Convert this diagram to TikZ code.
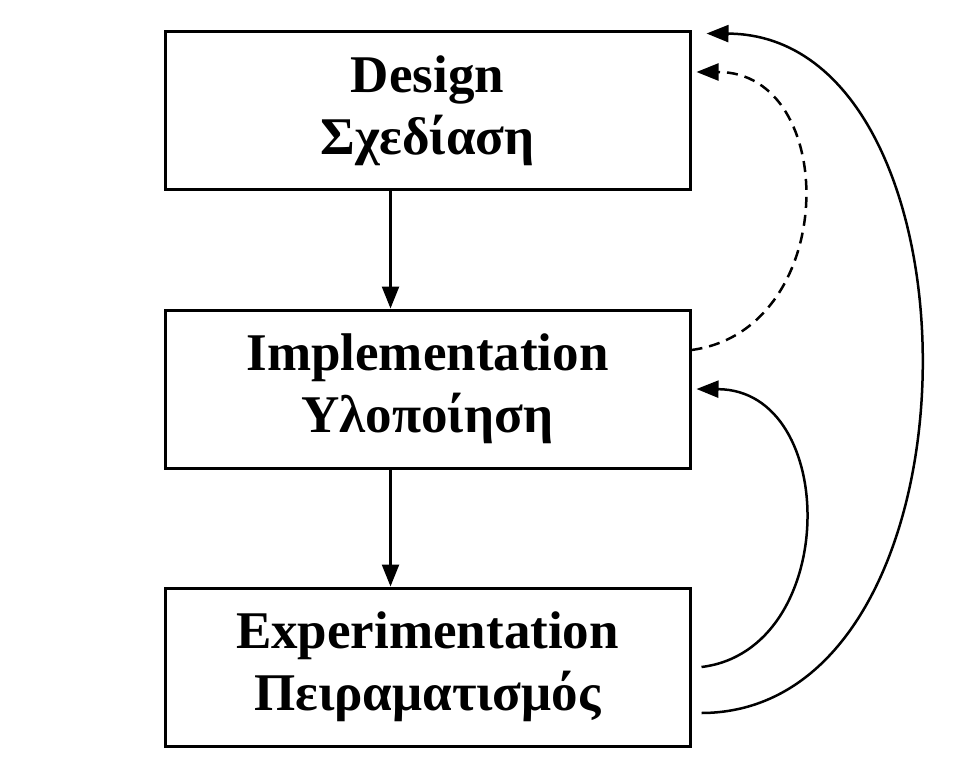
\documentclass[tikz,border=0pt]{standalone}
\usepackage{fontspec}
\setmainfont{Liberation Serif}
\usetikzlibrary{arrows.meta,positioning,calc}
\tikzset{
  stagebox/.style={draw,line width=3pt,minimum width=525pt,minimum height=158pt,inner sep=0pt},
  flowarrow/.style={line width=2.5pt,-{Triangle[length=22pt,width=17pt]}}
}

\begin{document}
\begin{tikzpicture}[x=1pt,y=-1pt,font=\fontsize{53}{62}\selectfont\bfseries,every node/.style={align=center}]
\useasboundingbox (0,0) rectangle (957,759);
\node[stagebox] (design) at (427.5,111) {Design\\Σχεδίαση};
\node[stagebox,below=117pt of design] (impl) {Implementation\\Υλοποίηση};
\node[stagebox,below=117pt of impl] (exper) {Experimentation\\Πειραματισμός};
\draw[flowarrow] ($(design.south)+(-37,0)$)--($(impl.north)+(-37,0)$);
\draw[flowarrow] ($(impl.south)+(-37,0)$)--($(exper.north)+(-37,0)$);
% feedback loops
\coordinate (implout) at ($(impl.east)+(0,-39)$);
\coordinate (designin) at ($(design.east)+(5,-39)$);
\coordinate (experout) at ($(exper.east)+(10,0)$);
\coordinate (implin) at ($(impl.east)+(5,0)$);
\coordinate (experlow) at ($(exper.east)+(10,46)$);
\coordinate (designtop) at ($(design.north east)+(15,3)$);
\draw[flowarrow,dashed,dash pattern=on 11pt off 7pt] (implout) .. controls (840,330) and (840,72) .. (designin);
\draw[flowarrow] (experout) .. controls (840,650) and (840,390) .. (implin);
\draw[flowarrow] (experlow) .. controls (992,712) and (992,35) .. (designtop);
\end{tikzpicture}
\end{document}
